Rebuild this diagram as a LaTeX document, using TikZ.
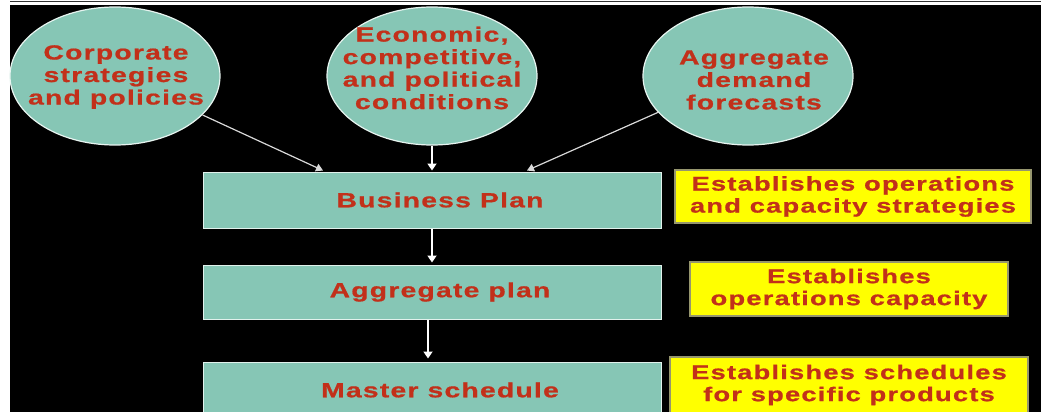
\documentclass[tikz,border=0pt]{standalone}
\usepackage{fontspec}
\setmainfont{Liberation Sans}
\newfontfamily\slidefont{Liberation Sans Bold}[FakeStretch=1.38,LetterSpace=6,FakeBold=0.8]
\usetikzlibrary{shapes.geometric,arrows.meta}
\definecolor{tealfill}{RGB}{134,198,181}
\definecolor{txtred}{RGB}{194,48,26}
\definecolor{yel}{RGB}{255,255,0}
\definecolor{yelborder}{RGB}{150,150,110}
\begin{document}
\begin{tikzpicture}[x=1pt,y=-1pt,
  ell/.style={ellipse, draw=white!80!tealfill, line width=1.2pt, fill=tealfill,
    minimum width=210pt, minimum height=138pt, inner sep=0pt},
  etxt/.style={text=txtred, font=\slidefont\fontsize{20.5}{22.5}\selectfont, align=center, inner sep=0pt},
  plan/.style={rectangle, draw=white!75!tealfill, line width=1pt, fill=tealfill,
    minimum width=458pt, inner sep=0pt, text=txtred,
    font=\slidefont\fontsize{20.5}{22}\selectfont},
  note/.style={rectangle, fill=yel, draw=yelborder, line width=1.5pt, text=txtred,
    align=center, inner sep=0pt, font=\slidefont\fontsize{19.8}{22}\selectfont},
  arr/.style={draw=white, line width=1.8pt, -{Triangle[width=9pt,length=7pt]}},
  darr/.style={draw=white!85!black, line width=1.2pt, -{Triangle[width=8pt,length=7pt]}}
]
\useasboundingbox (0,0) rectangle (1041,412);
\fill[white] (0,0) rectangle (1041,412);
\fill[black] (10,5.5) rectangle (1041,412);
\draw[line width=1.3pt, black!80] (10,1.8) -- (1041,1.8);

% ellipses
\node[ell] (e1) at (115,76) {};
\node[ell] (e2) at (432,76) {};
\node[ell] (e3) at (748,76) {};
\node[etxt] (t1) at (116,77) {Corporate\\strategies\\and policies};
\node[etxt] (t2) at (432,68) {Economic,\\competitive,\\and political\\conditions};
\node[etxt] (t3) at (754,80) {Aggregate\\demand\\forecasts};

% plan boxes
\node[plan, minimum height=56pt] (bp) at (432,200) {\hspace*{16pt}Business Plan};
\node[plan, minimum height=54pt] (ap) at (432,292) {\hspace*{16pt}Aggregate plan};
\node[plan, minimum height=56pt] (ms) at (432,390) {\hspace*{16pt}Master schedule};

% notes
\node[note, minimum width=356pt, minimum height=53pt] (n1) at (853,196.5) {Establishes operations\\and capacity strategies};
\node[note, minimum width=318pt, minimum height=54pt] (n2) at (849,289) {Establishes\\operations capacity};
\node[note, minimum width=358pt, minimum height=56pt] (n3) at (849,385) {Establishes schedules\\for specific products};

% arrows
\draw[darr] (e1.-24.4) -- ([xshift=-109pt,yshift=1pt]bp.north);
\draw[arr] (e2.south) -- ([yshift=1pt]bp.north);
\draw[darr] (e3.202.3) -- ([xshift=95pt,yshift=1pt]bp.north);
\draw[arr] (bp.south) -- ([yshift=2pt]ap.north);
\draw[arr] ([xshift=-4pt]ap.south) -- ([xshift=-4pt,yshift=3pt]ms.north);
\end{tikzpicture}
\end{document}
